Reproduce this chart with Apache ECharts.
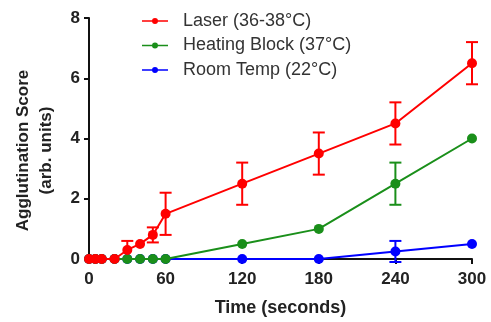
<!DOCTYPE html>
<html><head><meta charset="utf-8">
<script src="https://cdn.jsdelivr.net/npm/echarts@6/dist/echarts.min.js"></script>
<style>html,body{margin:0;padding:0;background:#fff}#c{width:491px;height:322px}</style>
</head><body><div id="c"></div>
<script>
var times = [0, 5, 10, 20, 30, 40, 50, 60, 120, 180, 240, 300];
var laser = [0, 0, 0, 0, 0.3, 0.5, 0.8, 1.5, 2.5, 3.5, 4.5, 6.5];
var laserErr = [0, 0, 0, 0, 0.3, 0, 0.25, 0.7, 0.7, 0.7, 0.7, 0.7];
var heating = [0, 0, 0, 0, 0, 0, 0, 0, 0.5, 1.0, 2.5, 4.0];
var heatingErr = [0, 0, 0, 0, 0, 0, 0, 0, 0, 0, 0.7, 0];
var room = [0, 0, 0, 0, 0, 0, 0, 0, 0, 0, 0.25, 0.5];
var roomErr = [0, 0, 0, 0, 0, 0, 0, 0, 0, 0, 0.35, 0];
var names = ['Laser (36-38°C)', 'Heating Block (37°C)', 'Room Temp (22°C)'];
var colors = ['#ff0000', '#1a8f1a', '#0000ff'];
var xTicks = [0, 60, 120, 180, 240, 300];
var yTicks = [0, 2, 4, 6, 8];

function pts(vals){ return times.map(function(t,i){ return [t, vals[i]]; }); }
function errData(vals, errs){
  var out = [];
  times.forEach(function(t,i){ if (errs[i] > 0) out.push([t, vals[i]-errs[i], vals[i]+errs[i]]); });
  return out;
}
function errSeries(vals, errs, color){
  return {
    type: 'custom', clip: false, z: 3,
    data: errData(vals, errs),
    renderItem: function(params, api){
      var lo = api.coord([api.value(0), api.value(1)]);
      var hi = api.coord([api.value(0), api.value(2)]);
      var w = 6;
      var st = {stroke: color, lineWidth: 2};
      return {type: 'group', children: [
        {type: 'line', shape: {x1: lo[0], y1: lo[1], x2: hi[0], y2: hi[1]}, style: st},
        {type: 'line', shape: {x1: lo[0]-w, y1: lo[1], x2: lo[0]+w, y2: lo[1]}, style: st},
        {type: 'line', shape: {x1: hi[0]-w, y1: hi[1], x2: hi[0]+w, y2: hi[1]}, style: st}
      ]};
    }
  };
}
function lineSeries(name, vals, color, z){
  return {
    name: name, type: 'line', data: pts(vals), clip: false, z: z,
    symbol: 'circle', symbolSize: 10, showSymbol: true,
    lineStyle: {color: color, width: 2}, itemStyle: {color: color}
  };
}
var font = 'Liberation Sans, Arial, sans-serif';
var chart = echarts.init(document.getElementById('c'));
chart.setOption({
  animation: false,
  backgroundColor: '#fff',
  grid: {left: 89, right: 19, top: 18, bottom: 60},
  legend: {
    orient: 'vertical', left: 142, top: 12, itemGap: 6.5, padding: 0,
    itemWidth: 26, itemHeight: 6,
    icon: 'path://M0,4.2 L26,4.2 L26,5.8 L0,5.8 Z M10,5 a3,3 0 1,1 6,0 a3,3 0 1,1 -6,0 Z',
    textStyle: {fontFamily: font, fontSize: 18, color: '#333', padding: [0,0,0,10]},
    data: names
  },
  xAxis: {
    type: 'value', min: 0, max: 300, interval: 60,
    name: 'Time (seconds)', nameLocation: 'middle', nameGap: 40,
    nameTextStyle: {fontFamily: font, fontWeight: 'bold', fontSize: 18, color: '#222'},
    axisLine: {show: true, onZero: false, lineStyle: {color: '#111', width: 2}},
    axisTick: {show: true, length: 5, lineStyle: {color: '#111', width: 2}},
    axisLabel: {fontFamily: font, fontWeight: 'bold', fontSize: 17, color: '#222', margin: 12,
      formatter: function(v){ return xTicks.indexOf(v) >= 0 ? String(v) : ''; }},
    splitLine: {show: false}
  },
  yAxis: {
    type: 'value', min: 0, max: 8, interval: 2,
    name: 'Agglutination Score\n(arb. units)', nameLocation: 'middle', nameGap: 31, nameRotate: 90,
    nameTextStyle: {fontFamily: font, fontWeight: 'bold', fontSize: 17, color: '#222', lineHeight: 23, padding: [0, 24, 0, 0]},
    axisLine: {show: true, lineStyle: {color: '#111', width: 2}},
    axisTick: {show: true, length: 5, lineStyle: {color: '#111', width: 2}},
    axisLabel: {fontFamily: font, fontWeight: 'bold', fontSize: 17, color: '#222', margin: 9,
      formatter: function(v){ return yTicks.indexOf(v) >= 0 ? String(v) : ''; }},
    splitLine: {show: false}
  },
  series: [
    lineSeries(names[2], room, colors[2], 4),
    lineSeries(names[1], heating, colors[1], 5),
    lineSeries(names[0], laser, colors[0], 6),
    errSeries(room, roomErr, colors[2]),
    errSeries(heating, heatingErr, colors[1]),
    errSeries(laser, laserErr, colors[0])
  ]
});
</script></body></html>
